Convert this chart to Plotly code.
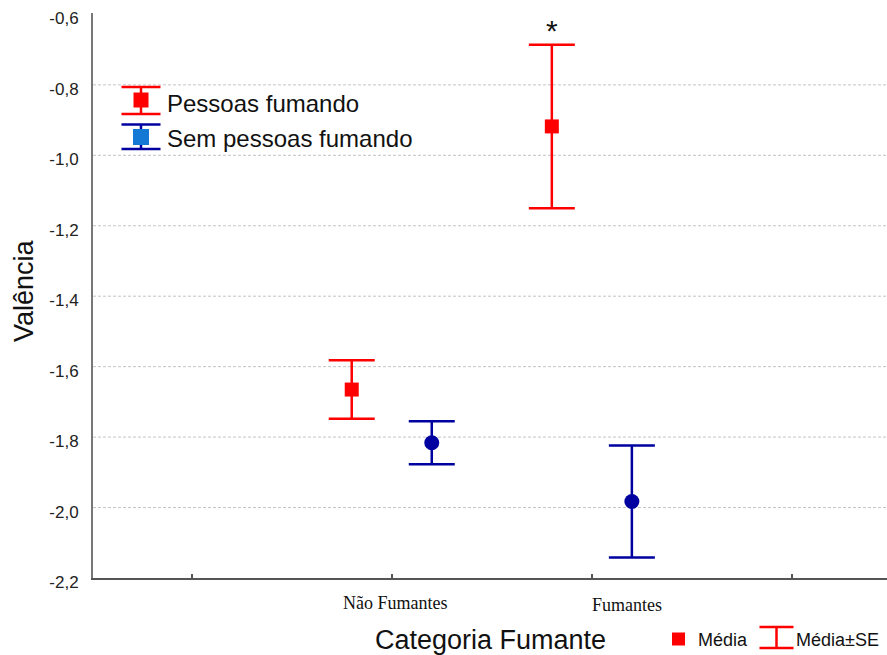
import plotly.graph_objects as go

# ---- data ----
categories = ["Não Fumantes", "Fumantes"]
series_names = ["Pessoas fumando", "Sem pessoas fumando"]
mean_fumando = [-1.665, -0.918]
se_fumando = [0.083, 0.232]
mean_sem = [-1.816, -1.983]
se_sem = [0.061, 0.159]
y_tickvals = [-2.2, -2.0, -1.8, -1.6, -1.4, -1.2, -1.0, -0.8, -0.6]
y_ticktext = ["-2,2", "-2,0", "-1,8", "-1,6", "-1,4", "-1,2", "-1,0", "-0,8", "-0,6"]
x_tickvals = [0, 1, 2, 3]

RED = "#FF0000"
BLUE = "#0000A0"
LBLUE = "#1479D4"
SANS = "Liberation Sans, Arial, sans-serif"
SERIF = "Liberation Serif, Times New Roman, serif"

W, H = 887, 655
L, R, T, B = 93, 0, 13, 77
PW, PH = W - L - R, H - T - B


def fx(px):
    return (px - L) / PW


def fy(py):
    return (H - B - py) / PH


cat_x = [i + 1 for i in range(len(categories))]
x_red = [c - 0.2 for c in cat_x]
x_blue = [c + 0.2 for c in cat_x]

fig = go.Figure()
fig.add_trace(go.Scatter(
    x=x_red, y=mean_fumando, mode="markers", name=series_names[0],
    marker=dict(symbol="square", size=14, color=RED),
    error_y=dict(type="data", array=se_fumando, visible=True,
                 color=RED, thickness=2.5, width=23),
    showlegend=False,
))
fig.add_trace(go.Scatter(
    x=x_blue, y=mean_sem, mode="markers", name=series_names[1],
    marker=dict(symbol="circle", size=15, color=BLUE),
    error_y=dict(type="data", array=se_sem, visible=True,
                 color=BLUE, thickness=2.5, width=23),
    showlegend=False,
))

shapes = []
annotations = []

# dashed horizontal gridlines (interior ticks only)
for v in y_tickvals[1:-1]:
    shapes.append(dict(type="line", xref="paper", yref="y", x0=0, x1=1, y0=v, y1=v,
                       line=dict(color="#c4c4c4", width=1, dash="3px,2px"), layer="below"))

# asterisk above the red "Fumantes" bar
annotations.append(dict(
    x=x_red[1], y=mean_fumando[1] + se_fumando[1], xref="x", yref="y",
    text="*", showarrow=False, yanchor="bottom", yshift=-4,
    font=dict(family=SANS, size=30, color="#111"),
))

# x category labels (serif)
annotations.append(dict(
    x=cat_x[0], y=fy(603), xref="x", yref="paper", text=categories[0],
    showarrow=False, xanchor="center", yanchor="middle", xshift=3,
    font=dict(family=SERIF, size=18, color="#111"),
))
annotations.append(dict(
    x=cat_x[1], y=fy(605), xref="x", yref="paper", text=categories[1],
    showarrow=False, xanchor="left", yanchor="middle", xshift=-2,
    font=dict(family=SERIF, size=18, color="#111"),
))

# axis titles
annotations.append(dict(
    x=fx(490), y=fy(640), xref="paper", yref="paper", text="Categoria Fumante",
    showarrow=False, xanchor="center", yanchor="middle",
    font=dict(family=SANS, size=27, color="#111"),
))
annotations.append(dict(
    x=fx(24), y=fy(291), xref="paper", yref="paper", text="Valência",
    showarrow=False, xanchor="center", yanchor="middle", textangle=-90,
    font=dict(family=SANS, size=27, color="#111"),
))


# ---- top-left legend ----
def errbar_icon(cx, ytop, ybot, half, color, width=2.5):
    shapes.append(dict(type="line", xref="paper", yref="paper",
                       x0=fx(cx), x1=fx(cx), y0=fy(ytop), y1=fy(ybot),
                       line=dict(color=color, width=width)))
    for yy in (ytop, ybot):
        shapes.append(dict(type="line", xref="paper", yref="paper",
                           x0=fx(cx - half), x1=fx(cx + half), y0=fy(yy), y1=fy(yy),
                           line=dict(color=color, width=width)))


def square(cx, cy, s, color):
    shapes.append(dict(type="rect", xref="paper", yref="paper",
                       x0=fx(cx - s / 2), x1=fx(cx + s / 2),
                       y0=fy(cy + s / 2), y1=fy(cy - s / 2),
                       fillcolor=color, line=dict(width=0)))


errbar_icon(141, 87, 114, 19.5, RED)
square(141, 100, 15, RED)
errbar_icon(141, 124.5, 149, 19.5, BLUE)
square(141, 137, 16, LBLUE)

annotations.append(dict(
    x=fx(165), y=fy(103), xref="paper", yref="paper", text=series_names[0],
    showarrow=False, xanchor="left", yanchor="middle",
    font=dict(family=SANS, size=24, color="#111"),
))
annotations.append(dict(
    x=fx(165), y=fy(138), xref="paper", yref="paper", text=series_names[1],
    showarrow=False, xanchor="left", yanchor="middle",
    font=dict(family=SANS, size=24, color="#111"),
))

# ---- bottom legend ----
square(678.5, 639, 13, RED)
annotations.append(dict(
    x=fx(696), y=fy(640), xref="paper", yref="paper", text="Média",
    showarrow=False, xanchor="left", yanchor="middle",
    font=dict(family=SANS, size=18, color="#111"),
))
errbar_icon(776.5, 627, 648, 17, RED)
annotations.append(dict(
    x=fx(794), y=fy(640), xref="paper", yref="paper", text="Média±SE",
    showarrow=False, xanchor="left", yanchor="middle",
    font=dict(family=SANS, size=18, color="#111"),
))

fig.update_layout(
    width=W, height=H,
    margin=dict(l=L, r=R, t=T, b=B, pad=0),
    paper_bgcolor="white", plot_bgcolor="white",
    showlegend=False,
    shapes=shapes, annotations=annotations,
    xaxis=dict(
        range=[-0.493, 3.475], tickvals=x_tickvals, ticktext=["", "", "", ""],
        showgrid=False, zeroline=False,
        showline=True, linecolor="#555", linewidth=2,
        ticks="inside", ticklen=4, tickwidth=2, tickcolor="#555",
    ),
    yaxis=dict(
        range=[-2.2, -0.596], tickvals=y_tickvals, ticktext=y_ticktext,
        showgrid=False, zeroline=False, showline=True, linecolor="#777", linewidth=2,
        ticks="", ticklabelstandoff=9, ticklabelshift=4,
        tickfont=dict(family=SANS, size=17, color="#222"),
    ),
)

fig.write_html(
    "out.html",
    config={"displayModeBar": False},
    post_script="document.body.style.margin='0';document.body.style.padding='0';",
)
